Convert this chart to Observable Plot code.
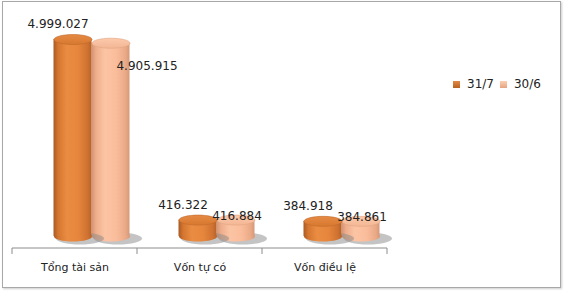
<!DOCTYPE html>
<html><head><meta charset="utf-8">
<script src="https://cdn.jsdelivr.net/npm/d3@7"></script>
<script src="https://cdn.jsdelivr.net/npm/@observablehq/plot@0.6"></script>
<style>
body{margin:0;background:#fff;}
#wrap{position:relative;width:565px;height:291px;overflow:hidden;font-family:"DejaVu Sans",sans-serif;}
#box{position:absolute;left:2px;top:1px;width:557px;height:285px;border:1.5px solid #a8a8a8;box-shadow:1px 1px 2px rgba(0,0,0,0.2);background:#fff;}
#chart{position:absolute;left:0;top:0;}
#legend{position:absolute;left:453px;top:77px;font-size:12px;color:#222;display:flex;align-items:center;white-space:nowrap;}
#legend .sw{display:inline-block;width:7px;height:7px;margin-right:7px;}
#legend .item{display:flex;align-items:center;margin-right:6px;}
</style></head>
<body><div id="wrap"><div id="box"></div><div id="chart"></div><div id="legend"></div></div>
<script>
const categories = ["Tổng tài sản", "Vốn tự có", "Vốn điều lệ"];
const seriesNames = ["31/7", "30/6"];
const values317 = [4999027, 416322, 384918];
const values306 = [4905915, 416884, 384861];

const seriesValues = {"31/7": values317, "30/6": values306};
const rows = categories.flatMap((c, i) => seriesNames.map(s => ({cat: c, series: s, value: seriesValues[s][i]})));

const vn = d3.formatLocale({decimal: ",", thousands: ".", grouping: [3], currency: ["", ""]});
const fmt = vn.format(",d");

function ellipseSymbol(rx, ry) {
  const k = 0.5523;
  return {draw(ctx) {
    ctx.moveTo(rx, 0);
    ctx.bezierCurveTo(rx, ry * k, rx * k, ry, 0, ry);
    ctx.bezierCurveTo(-rx * k, ry, -rx, ry * k, -rx, 0);
    ctx.bezierCurveTo(-rx, -ry * k, -rx * k, -ry, 0, -ry);
    ctx.bezierCurveTo(rx * k, -ry, rx, -ry * k, rx, 0);
    ctx.closePath();
  }};
}

const BW = 125, BAR = 38, RX = BAR / 2, RY = 5;
const style = {
  "31/7": {off: -2, body: "url(#gOrange)", top: "url(#tOrange)", edge: "#c06a2c"},
  "30/6": {off: 36, body: "url(#gPeach)", top: "url(#tPeach)", edge: "#e0a482"}
};

function seriesMarks(s) {
  const st = style[s];
  const data = rows.filter(d => d.series === s);
  const left = BW / 2 + st.off - RX, right = BW / 2 - st.off - RX;
  return [
    Plot.dot(data, {x: "cat", y: () => 0, dx: st.off + 7, dy: 2, symbol: ellipseSymbol(RX + 5, RY + 1), fill: "#8a8a8a", fillOpacity: 0.5, r: 1, stroke: "none", style: "filter:url(#blur)"}),
    Plot.dot(data, {x: "cat", y: () => 0, dx: st.off, symbol: ellipseSymbol(RX, RY), fill: st.body, r: 1, stroke: "none"}),
    Plot.barY(data, {x: "cat", y: "value", fill: st.body, insetLeft: left, insetRight: right}),
    Plot.dot(data, {x: "cat", y: "value", dx: st.off, symbol: ellipseSymbol(RX, RY), fill: st.top, r: 1, stroke: st.edge, strokeWidth: 0.6})
  ];
}

const axisMark = (index, scales, values, dims) => {
  const x = scales.x;
  const bw = x.bandwidth();
  const yb = dims.height - dims.marginBottom + 12;
  const g = d3.create("svg:g").attr("stroke", "#8c8c8c").attr("stroke-width", 1);
  const r = x.range();
  g.append("line").attr("x1", r[0]).attr("x2", r[1]).attr("y1", yb).attr("y2", yb);
  const edges = x.domain().map(c => x(c)).concat([x(x.domain()[x.domain().length - 1]) + bw]);
  for (const e of edges) g.append("line").attr("x1", e).attr("x2", e).attr("y1", yb).attr("y2", yb + 6);
  return g.node();
};

const plot = Plot.plot({
  width: 565, height: 291,
  marginLeft: 12, marginRight: 178, marginTop: 39, marginBottom: 55,
  x: {domain: categories, padding: 0, axis: null},
  y: {domain: [0, 5000000], axis: null},
  style: {background: "transparent", fontFamily: "DejaVu Sans", overflow: "visible"},
  marks: [
    axisMark,
    ...seriesMarks("30/6"),
    ...seriesMarks("31/7"),
    Plot.text(rows.filter(d => d.series === "31/7"), {x: "cat", y: "value", text: d => fmt(d.value), dx: -17, dy: -15, fontSize: 12, fill: "#222"}),
    Plot.text(rows.filter(d => d.series === "30/6" && d.value > 1e6), {x: "cat", y: "value", text: d => fmt(d.value), dx: 72, dy: 23, fontSize: 12, fill: "#222"}),
    Plot.text(rows.filter(d => d.series === "30/6" && d.value <= 1e6), {x: "cat", y: "value", text: d => fmt(d.value), dx: 37, dy: -4, fontSize: 12, fill: "#222"}),
    Plot.text(categories, {x: d => d, frameAnchor: "bottom", dy: 34, text: d => d, fontSize: 11, fill: "#222"})
  ]
});

const svg = d3.select(plot);
const defs = svg.insert("defs", ":first-child");
function hgrad(id, stops) {
  const g = defs.append("linearGradient").attr("id", id).attr("x1", 0).attr("x2", 1).attr("y1", 0).attr("y2", 0);
  stops.forEach(([o, c]) => g.append("stop").attr("offset", o).attr("stop-color", c));
}
function vgrad(id, stops) {
  const g = defs.append("linearGradient").attr("id", id).attr("x1", 0).attr("x2", 0).attr("y1", 0).attr("y2", 1);
  stops.forEach(([o, c]) => g.append("stop").attr("offset", o).attr("stop-color", c));
}
hgrad("gOrange", [["0%", "#a95a26"], ["12%", "#d4762f"], ["35%", "#ea8c42"], ["65%", "#e6863d"], ["90%", "#cf7230"], ["100%", "#b5622a"]]);
hgrad("gPeach", [["0%", "#d49474"], ["12%", "#eeae8c"], ["35%", "#fcc4a4"], ["65%", "#fabd9b"], ["90%", "#e9a987"], ["100%", "#d69878"]]);
vgrad("tOrange", [["0%", "#e58a44"], ["100%", "#d8782f"]]);
vgrad("tPeach", [["0%", "#fccaab"], ["100%", "#f3b694"]]);
defs.append("filter").attr("id", "blur").attr("x", "-50%").attr("y", "-100%").attr("width", "200%").attr("height", "300%")
  .append("feGaussianBlur").attr("stdDeviation", 2.5);

document.getElementById("chart").appendChild(plot);

const legend = document.getElementById("legend");
const swColors = {"31/7": "linear-gradient(#e28a45,#b8601f)", "30/6": "linear-gradient(#fbd0b4,#e6a480)"};
seriesNames.forEach(s => {
  const it = document.createElement("span"); it.className = "item";
  const sw = document.createElement("span"); sw.className = "sw"; sw.style.background = swColors[s];
  it.appendChild(sw); it.appendChild(document.createTextNode(s));
  legend.appendChild(it);
});
</script></body></html>
